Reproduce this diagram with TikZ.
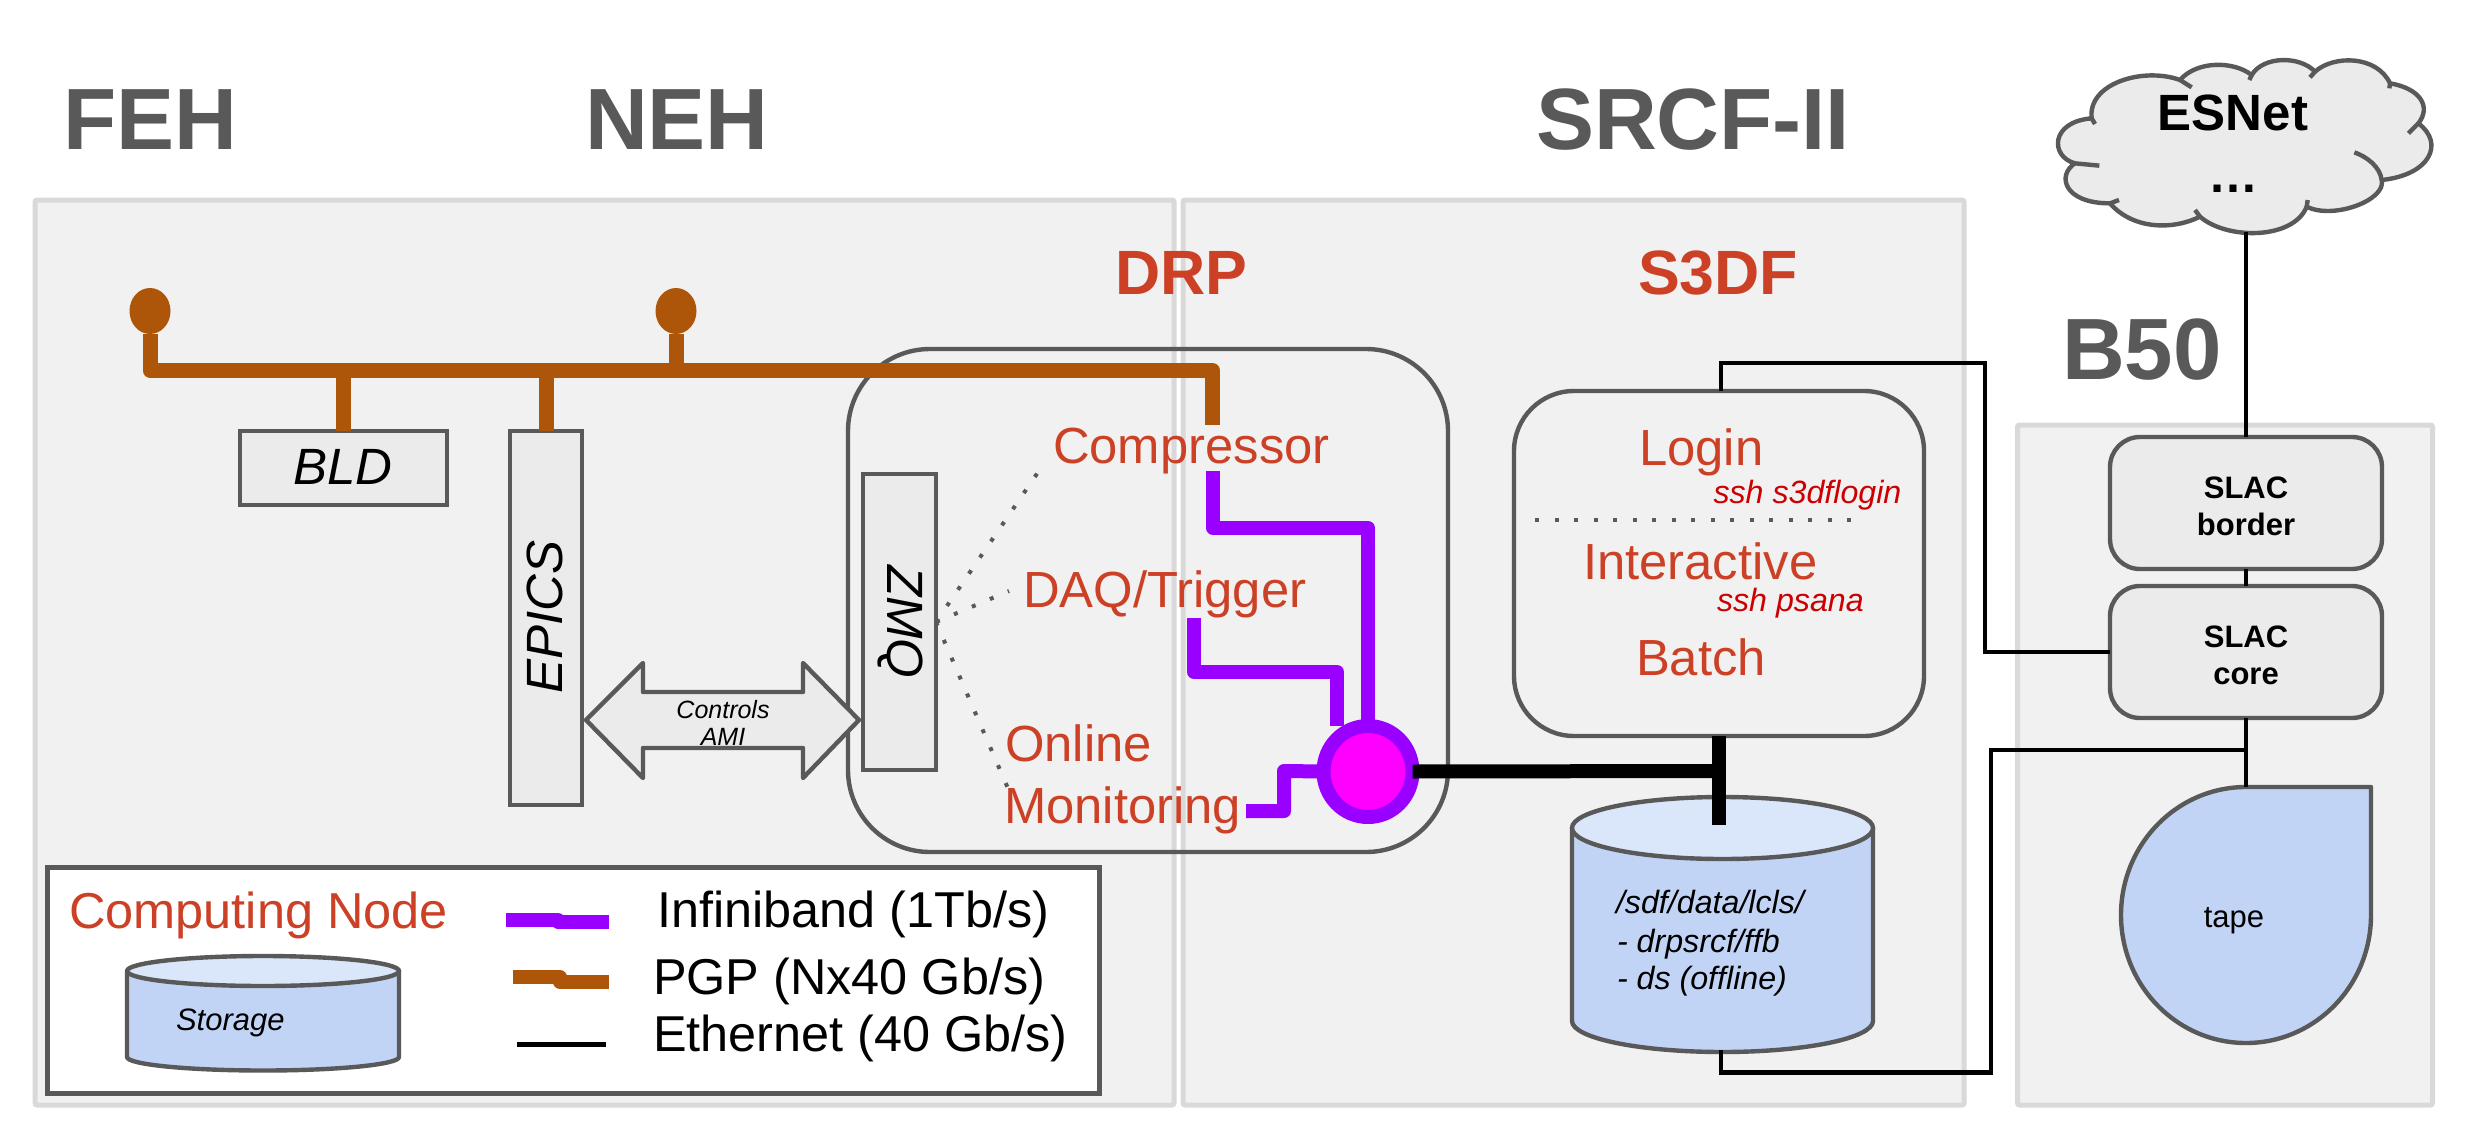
\documentclass[tikz,border=0pt]{standalone}
\usepackage{fontspec}
\setmainfont{Liberation Sans}
\usetikzlibrary{shapes.geometric}
\definecolor{edgegray}{HTML}{595959}
\definecolor{panelfill}{HTML}{F1F1F1}
\definecolor{paneledge}{HTML}{D9D9D9}
\definecolor{boxfill}{HTML}{EBEBEB}
\definecolor{labelred}{HTML}{CC4125}
\definecolor{sshred}{HTML}{CC0000}
\definecolor{pgpbrown}{HTML}{AD5509}
\definecolor{ibpurple}{HTML}{9900FF}
\definecolor{hubpink}{HTML}{FF00FF}
\definecolor{storebody}{HTML}{C2D4F5}
\definecolor{storetop}{HTML}{DAE6FA}
\tikzset{
  panel/.style={draw=paneledge,fill=panelfill,line width=2.5pt,inner sep=0pt,outer sep=0pt,rounded corners=1pt},
  sqbox/.style={draw=edgegray,fill=boxfill,line width=2.2pt,inner sep=0pt,outer sep=0pt},
  rndbox/.style={draw=edgegray,line width=2.2pt,inner sep=0pt,outer sep=0pt},
  slacbox/.style={rndbox,fill=boxfill,rounded corners=15pt},
  slaclab/.style={inner sep=0pt,outer sep=0pt,align=center,font=\fontsize{15.5}{18.5}\selectfont\bfseries},
  txt/.style={inner sep=0pt,outer sep=0pt,anchor=base west},
  heading/.style={txt,text=edgegray,font=\fontsize{43.5}{50}\selectfont\bfseries},
  redhead/.style={txt,text=labelred,font=\fontsize{31.3}{36}\selectfont\bfseries},
  redlab/.style={txt,text=labelred,font=\fontsize{25.4}{30}\selectfont},
  sshlab/.style={txt,text=sshred,font=\fontsize{16.1}{19}\selectfont\itshape},
  blacklab/.style={txt,font=\fontsize{25.2}{30}\selectfont},
  itlab/.style={inner sep=0pt,outer sep=0pt,font=\fontsize{25.5}{30}\selectfont\itshape},
  smallit/.style={txt,font=\fontsize{16.1}{19}\selectfont\itshape},
  pgp/.style={draw=pgpbrown,line width=7.5pt,line join=round},
  ib/.style={draw=ibpurple,line width=7pt,line join=round},
  eth/.style={draw=black,line width=2.3pt,line join=miter},
  thicketh/.style={draw=black,line width=7pt},
  dots/.style={draw=edgegray,line width=2pt,dash pattern=on 2pt off 7.75pt},
  shapeline/.style={draw=edgegray,line width=2.2pt,line join=round},
  source/.style={ellipse,fill=pgpbrown,minimum width=20.5pt,minimum height=23pt,inner sep=0pt,outer sep=0pt},
}
\begin{document}
\begin{tikzpicture}[x=0.5pt,y=-0.5pt]
\useasboundingbox (0,0) rectangle (2470,1140);
% panels
\node[panel,minimum width=569.5pt,minimum height=452.5pt] (pfeh) at (604.5,652.5) {};
\node[panel,minimum width=390.5pt,minimum height=452.5pt] (psrcf) at (1573.5,652.5) {};
\node[panel,minimum width=207.5pt,minimum height=340pt] (pb50) at (2225,765) {};
% headings
\node[heading] (hfeh) at (63,149) {FEH};
\node[heading] (hneh) at (585,149) {NEH};
\node[heading] (hsrcf) at (1536,149) {SRCF-II};
\node[heading] (hb50) at (2062,379) {B50};
\node[redhead] (hdrp) at (1115,294) {DRP};
\node[redhead] (hs3df) at (1638,294) {S3DF};
% computing node
\node[rndbox,rounded corners=41pt,minimum width=300pt,minimum height=251.5pt] (drp) at (1148,600.5) {};
\node[sqbox,minimum width=36.5pt,minimum height=148pt] (zmq) at (899.5,622) {};
\node[itlab,rotate=-90] (zmqt) at (900,622) {ZMQ};
\node[sqbox,minimum width=103.5pt,minimum height=37pt] (bld) at (343.5,468) {};
\node[itlab] (bldt) at (343,467) {BLD};
\node[sqbox,minimum width=36pt,minimum height=187pt] (epics) at (546,618) {};
\node[itlab,rotate=90] (epicst) at (545,617) {EPICS};
% double arrow
\draw[shapeline,fill=boxfill] (586,720) -- (643,663) -- (643,692) -- (803,692) -- (803,663) -- (859,720) -- (803,778) -- (803,748) -- (643,748) -- (643,778) -- cycle;
\node[inner sep=0pt,outer sep=0pt,align=center,font=\fontsize{12.5}{13.5}\selectfont\itshape] (ctrl) at (723,723) {Controls\\AMI};
% PGP bus
\node[source] (src1) at (150,311) {};
\node[source] (src2) at (676,311) {};
\coordinate (busL) at (545,370.5);
\coordinate (busR) at (1212.5,370.5);
\coordinate (cmpIn) at (1212.5,425);
\draw[pgp] (src1.south) |- (busL);
\draw[pgp] (src2.south) -- (src2.south |- busL);
\draw[pgp] (bld.north) -- (bld.north |- busL);
\draw[pgp] (epics.north) |- (busR) -- (cmpIn);
% labels in computing node
\node[redlab] (comp) at (1053,463) {Compressor};
\node[redlab] (daq) at (1023,607.5) {DAQ/Trigger};
\node[redlab] (onl) at (1005,761) {Online};
\node[redlab] (mon) at (1004,823) {Monitoring};
% dotted
\coordinate (dotC) at (1045,462);
\coordinate (dotD) at (1009,591);
\coordinate (dotO) at (1010,793);
\draw[dots] (zmq.east) -- (dotC);
\draw[dots] (zmq.east) -- (dotD);
\draw[dots] (zmq.east) -- (dotO);
% infiniband
\coordinate (cmpOut) at (1213,471);
\coordinate (sw1) at (1368,528);
\coordinate (daqOut) at (1194,618);
\coordinate (sw2) at (1337,672);
\coordinate (monOut) at (1246,811);
\coordinate (sw3) at (1284,771);
\node[ellipse,draw=ibpurple,fill=hubpink,line width=7pt,minimum width=44.5pt,minimum height=45.5pt,inner sep=0pt,outer sep=0pt] (switch) at (1368,771.5) {};
\draw[ib] (cmpOut) |- (sw1) -- (sw1 |- switch.north);
\draw[ib] (daqOut) |- (sw2) -- (sw2 |- switch.north);
\draw[ib] (monOut) -| (sw3) -- (switch.west);
% S3DF
\node[rndbox,rounded corners=30pt,minimum width=205pt,minimum height=172.5pt] (s3df) at (1719,563.5) {};
\node[redlab] (login) at (1639,465) {Login};
\node[sshlab] (ssh1) at (1713.5,503) {ssh s3dflogin};
\coordinate (divL) at (1535,520);
\coordinate (divR) at (1866,520);
\draw[dots] (divL) -- (divR);
\node[redlab] (inter) at (1583,579) {Interactive};
\node[sshlab] (ssh2) at (1717,611) {ssh psana};
\node[redlab] (batch) at (1636,675) {Batch};
% FFB cylinder
\draw[shapeline,fill=storebody] (1572,828) -- (1572,1021) arc[start angle=180,end angle=360,x radius=75.25pt,y radius=15.5pt] -- (1873,828) -- cycle;
\draw[shapeline,fill=storetop] (1722.5,828) ellipse[x radius=75.25pt,y radius=15.5pt];
\node[smallit] (ffb1) at (1616,913) {/sdf/data/lcls/};
\node[smallit] (ffb2) at (1617,952) {- drpsrcf/ffb};
\node[smallit] (ffb3) at (1617,989) {- ds (offline)};
\coordinate (ffbIn) at (1719,825);
\coordinate (thickEnd) at (1719,771);
\coordinate (ffbB) at (1721,1050);
\draw[thicketh] (s3df.south) -- (ffbIn);
\draw[thicketh] (switch.east) -- (thickEnd);
% SLAC boxes
\node[slacbox,minimum width=136pt,minimum height=66pt] (border) at (2246,503) {};
\node[slaclab] (bordert) at (2246,506) {SLAC\\border};
\node[slacbox,minimum width=136pt,minimum height=66pt] (core) at (2246,652) {};
\node[slaclab] (coret) at (2246,655) {SLAC\\core};
% tape
\draw[shapeline,fill=storebody] (2371,787) -- (2246,787) arc[start angle=90,end angle=360,x radius=62.5pt,y radius=64pt] -- cycle;
\coordinate (tapeTop) at (2246,787);
\node[inner sep=0pt,outer sep=0pt,anchor=base,font=\fontsize{15.5}{18}\selectfont] (tapet) at (2234,927) {tape};
% ethernet
\coordinate (ethA) at (1985,363);
\coordinate (brJ) at (2246,750);
\coordinate (brK) at (1991,1072.5);
\draw[eth] ([xshift=1pt]s3df.north) |- (ethA) |- (core.west);
\draw[eth] (border.south) -- (core.north);
\draw[eth] (core.south) -- (tapeTop);
\draw[eth] (brJ) -| (brK) -| (ffbB);
% cloud
\begin{scope}[shift={(2000,0)},x=0.16667pt,y=-0.16667pt]
\draw[shapeline,fill=boxfill] (275,355)
  .. controls (262,250) and (430,200) .. (540,240)
  .. controls (590,182) and (700,182) .. (755,225)
  .. controls (790,167) and (900,167) .. (945,215)
  .. controls (1000,165) and (1130,165) .. (1170,250)
  .. controls (1260,265) and (1295,320) .. (1255,370)
  .. controls (1335,430) and (1290,525) .. (1145,540)
  .. controls (1160,600) and (1000,660) .. (920,620)
  .. controls (880,720) and (680,720) .. (600,650)
  .. controls (520,690) and (400,690) .. (330,610)
  .. controls (190,610) and (170,525) .. (225,490)
  .. controls (150,470) and (150,365) .. (275,355) -- cycle;
\draw[shapeline] (275,355) -- (285,372);
\draw[shapeline] (540,240) -- (575,262);
\draw[shapeline] (755,225) -- (748,240);
\draw[shapeline] (945,215) -- (930,232);
\draw[shapeline] (1170,250) -- (1168,265);
\draw[shapeline] (1255,370) -- (1225,400);
\draw[shapeline] (1145,540) .. controls (1140,500) and (1100,470) .. (1063,457);
\draw[shapeline] (920,620) -- (923,600);
\draw[shapeline] (600,650) -- (585,630);
\draw[shapeline] (330,610) -- (357,600);
\draw[shapeline] (225,490) -- (298,497);
\end{scope}
\node[inner sep=0pt,outer sep=0pt,anchor=base,font=\fontsize{25.5}{30}\selectfont\bfseries] (esnet) at (2233,130) {ESNet};
\node[inner sep=0pt,outer sep=0pt,anchor=base,font=\fontsize{25}{30}\selectfont\bfseries] (esdots) at (2233,192) {…};
\coordinate (cloudB) at (2246,232);
\draw[eth] (cloudB) -- (border.north);
% legend
\node[draw=edgegray,fill=white,line width=2.5pt,minimum width=526pt,minimum height=113pt,inner sep=0pt,outer sep=0pt] (legend) at (573,980) {};
\node[redlab,font=\fontsize{25.25}{30}\selectfont] (lcn) at (69,928) {Computing Node};
\node[blacklab] (lib) at (657,927) {Infiniband (1Tb/s)};
\node[blacklab] (lpgp) at (653,994) {PGP (Nx40 Gb/s)};
\node[blacklab] (leth) at (653,1051) {Ethernet (40 Gb/s)};
\coordinate (lib1) at (506,920);
\coordinate (lib2) at (558,921.5);
\coordinate (lib3) at (609,921.5);
\coordinate (lpg1) at (513,977);
\coordinate (lpg2) at (560,982);
\coordinate (lpg3) at (609,982);
\coordinate (let1) at (517,1044.5);
\coordinate (let2) at (606,1044.5);
\draw[ib] (lib1) -| (lib2) -- (lib3);
\draw[pgp,line width=7pt] (lpg1) -| (lpg2) -- (lpg3);
\draw[eth] (let1) -- (let2);
\draw[shapeline,fill=storebody] (127,971) -- (127,1057) arc[start angle=180,end angle=360,x radius=68pt,y radius=6.75pt] -- (399,971) -- cycle;
\draw[shapeline,fill=storetop] (263,971) ellipse[x radius=68pt,y radius=7.5pt];
\node[txt,font=\fontsize{15.5}{18}\selectfont\itshape] (lst) at (176,1030) {Storage};
\end{tikzpicture}
\end{document}
